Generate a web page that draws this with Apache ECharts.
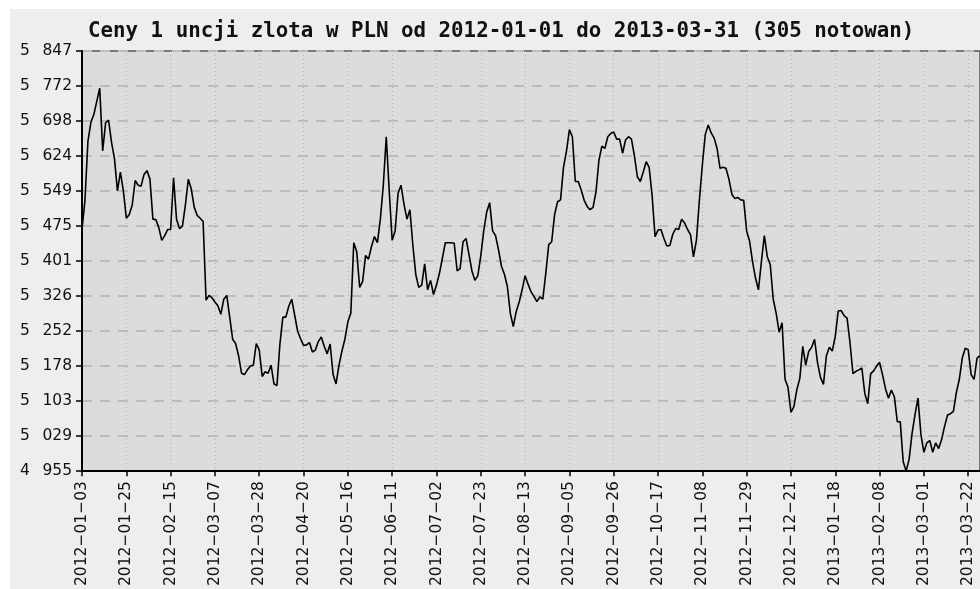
<!DOCTYPE html>
<html>
<head>
<meta charset="utf-8">
<script src="https://cdn.jsdelivr.net/npm/echarts@6/dist/echarts.min.js"></script>
<style>
  html, body { margin: 0; padding: 0; background: #fff; }
  #goldchart {
    position: absolute;
    left: 10px;
    top: 9px;
    width: 970px;
    height: 580px;
    background: #eeeeee;
  }
</style>
</head>
<body>
<div id="goldchart"></div>
<script>
// tick dates shown on the x axis, one every 15 quotations
const tickDates = [
  "2012-01-03", "2012-01-25", "2012-02-15", "2012-03-07", "2012-03-28",
  "2012-04-20", "2012-05-16", "2012-06-11", "2012-07-02", "2012-07-23",
  "2012-08-13", "2012-09-05", "2012-09-26", "2012-10-17", "2012-11-08",
  "2012-11-29", "2012-12-21", "2013-01-18", "2013-02-08", "2013-03-01",
  "2013-03-22"
];
const tickStep = 15;

// price of 1 oz gold in PLN, 305 quotations
const prices = [
  5468, 5530, 5655, 5695, 5712, 5740, 5768, 5635, 5695, 5700,
  5653, 5618, 5550, 5590, 5550, 5492, 5500, 5520, 5572, 5562,
  5560, 5585, 5593, 5575, 5490, 5489, 5472, 5445, 5455, 5468,
  5468, 5578, 5490, 5470, 5475, 5520, 5575, 5554, 5515, 5498,
  5492, 5485, 5318, 5328, 5323, 5314, 5306, 5288, 5320, 5328,
  5282, 5235, 5226, 5200, 5163, 5160, 5170, 5178, 5180, 5226,
  5212, 5156, 5166, 5163, 5180, 5140, 5137, 5225, 5282, 5282,
  5305, 5320, 5286, 5252, 5236, 5222, 5223, 5228, 5208, 5212,
  5230, 5240, 5220, 5204, 5225, 5160, 5140, 5180, 5210, 5235,
  5272, 5290, 5440, 5421, 5345, 5358, 5413, 5405, 5432, 5453,
  5440, 5490, 5562, 5665, 5550, 5445, 5465, 5545, 5562, 5522,
  5490, 5510, 5435, 5372, 5345, 5350, 5395, 5340, 5360, 5330,
  5350, 5375, 5407, 5440, 5440, 5440, 5439, 5380, 5385, 5442,
  5449, 5415, 5380, 5360, 5370, 5412, 5465, 5505, 5525, 5465,
  5455, 5425, 5390, 5373, 5347, 5290, 5262, 5294, 5314, 5340,
  5370, 5352, 5336, 5326, 5315, 5325, 5320, 5375, 5436, 5442,
  5500, 5527, 5531, 5600, 5634, 5680, 5665, 5570, 5570, 5552,
  5530, 5517, 5510, 5515, 5548, 5615, 5645, 5640, 5665, 5672,
  5675, 5660, 5660, 5630, 5658, 5665, 5660, 5625, 5580, 5570,
  5590, 5612, 5600, 5540, 5453, 5467, 5468, 5449, 5433, 5434,
  5458, 5470, 5468, 5490, 5482, 5468, 5457, 5410, 5445, 5530,
  5605, 5670, 5690, 5673, 5662, 5640, 5598, 5600, 5598, 5575,
  5543, 5534, 5536, 5531, 5530, 5465, 5443, 5400, 5365, 5340,
  5400, 5455, 5410, 5393, 5320, 5290, 5250, 5270, 5150, 5133,
  5080, 5092, 5128, 5152, 5220, 5180, 5209, 5218, 5235, 5185,
  5154, 5139, 5200, 5218, 5210, 5241, 5295, 5296, 5285, 5280,
  5227, 5162, 5167, 5170, 5174, 5120, 5098, 5162, 5168, 5178,
  5186, 5160, 5130, 5110, 5127, 5113, 5060, 5060, 4975, 4955,
  4980, 5035, 5075, 5110, 5033, 4995, 5015, 5020, 4995, 5015,
  5003, 5022, 5050, 5074, 5077, 5082, 5122, 5150, 5195, 5216,
  5213, 5160, 5150, 5195, 5200
];

const yMin = 4955;
const yMax = 5847;
const ySteps = 12;

// "5 847" style, truncated like the original
const fmtPln = (v) => {
  const n = Math.floor(v + 1e-6);
  const rest = String(n % 1000).padStart(3, "0");
  return Math.floor(n / 1000) + "\u2002 " + rest;
};

const chart = echarts.init(document.getElementById("goldchart"));
const option = {
  animation: false,
  title: {
    text: "Ceny 1 uncji zlota w PLN od 2012-01-01 do 2013-03-31 (305 notowan)",
    left: 78,
    top: 12,
    padding: 0,
    textStyle: {
      fontFamily: "DejaVu Sans Mono",
      fontWeight: "bold",
      fontSize: 20.8,
      color: "#111",
    },
  },
  grid: {
    left: 72,
    top: 42,
    width: 900,
    height: 422,
    show: true,
    backgroundColor: "#dcdcdc",
    borderColor: "#555",
    borderWidth: 1.5,
  },
  xAxis: {
    type: "category",
    boundaryGap: false,
    data: prices.map((p, i) => i),
    axisLine: { lineStyle: { color: "#000", width: 2 } },
    axisTick: {
      interval: tickStep - 1,
      length: 5,
      lineStyle: { color: "#000", width: 1.5 },
    },
    axisLabel: {
      interval: tickStep - 1,
      rotate: 90,
      margin: 10,
      fontFamily: "DejaVu Sans",
      fontSize: 15.5,
      color: "#111",
      formatter: (v) => {
        const i = Number(v);
        const d = i % tickStep === 0 ? tickDates[i / tickStep] || "" : "";
        return d.replace(/-/g, "\u2212");
      },
    },
    splitLine: {
      show: true,
      interval: tickStep - 1,
      lineStyle: { color: "#b4b4b4", width: 1, type: [1, 3] },
    },
  },
  yAxis: {
    type: "value",
    min: yMin,
    max: yMax,
    interval: (yMax - yMin) / ySteps,
    axisLine: { show: true, lineStyle: { color: "#000", width: 2 } },
    axisTick: { show: true, length: 6, lineStyle: { color: "#000", width: 1.5 } },
    axisLabel: {
      margin: 10,
      fontFamily: "DejaVu Sans",
      fontSize: 15.5,
      color: "#111",
      formatter: fmtPln,
    },
    splitLine: {
      lineStyle: { color: "#bcbcbc", width: 2, type: [10, 8] },
    },
  },
  series: [
    {
      name: "PLN",
      type: "line",
      data: prices,
      symbol: "none",
      clip: false,
      lineStyle: { color: "#000", width: 1.6 },
    },
  ],
};
chart.setOption(option);
</script>
</body>
</html>
